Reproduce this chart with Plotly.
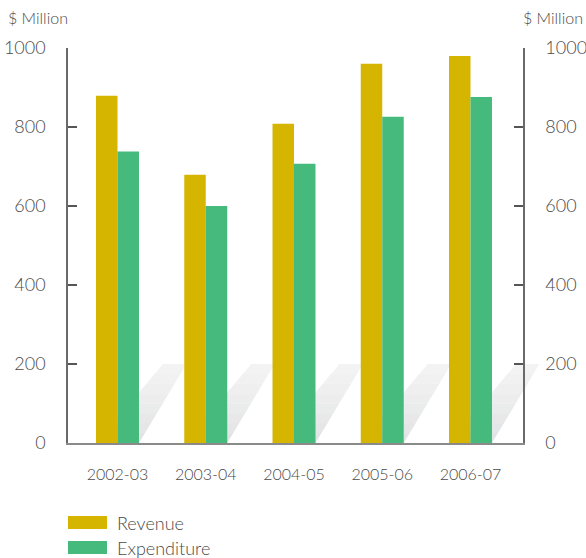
import plotly.graph_objects as go

# Fiscal years and amounts ($ Million)
years = ["2002-03", "2003-04", "2004-05", "2005-06", "2006-07"]
revenue = [879, 679, 808, 960, 980]
expenditure = [738, 600, 707, 826, 876]
y_ticks = [0, 200, 400, 600, 800, 1000]

REV_COLOR = "#D5B500"
EXP_COLOR = "#45BA7C"
TEXT_COLOR = "#4a4a4a"
FONT = "Lato"

W, H = 586, 558
M_L, M_R, M_T, M_B = 68, 63, 48, 115
X_RANGE = [-0.561, 4.595]
Y_RANGE = [0, 1000]
BAR_GAP = 0.513
SHADOW_TOP = 200
# top edge of each cast shadow, relative to the group centre (x units)
SHADOW_TOP_L, SHADOW_TOP_R = 0.516, 0.78

xs = list(range(len(years)))
bar_w = (1 - BAR_GAP) / 2

fig = go.Figure()
fig.add_trace(go.Bar(x=xs, y=revenue, name="Revenue", marker_color=REV_COLOR,
                     marker_line_width=0, showlegend=False))
fig.add_trace(go.Bar(x=xs, y=expenditure, name="Expenditure", marker_color=EXP_COLOR,
                     marker_line_width=0, showlegend=False))


def px_x(v):
    return (v - X_RANGE[0]) / (X_RANGE[1] - X_RANGE[0])


def px_y(v):
    return (v - Y_RANGE[0]) / (Y_RANGE[1] - Y_RANGE[0])


# Perspective floor shadows cast by each bar pair, fading lighter upward
shades = ["#e2e3e4", "#e5e6e7", "#e8e8e9", "#eaebeb", "#ededed", "#efefef", "#f1f1f1", "#f3f3f3"]
n = len(shades)
for i in xs:
    bl, br = i - bar_w, i + bar_w
    tl, tr = i + SHADOW_TOP_L, i + SHADOW_TOP_R
    for k, c in enumerate(shades):
        f0 = k / n
        f1 = min(1.0, (k + 1) / n + 0.004)
        l0, r0 = bl + (tl - bl) * f0, br + (tr - br) * f0
        l1, r1 = bl + (tl - bl) * f1, br + (tr - br) * f1
        y0, y1 = SHADOW_TOP * f0, SHADOW_TOP * f1
        path = (f"M{px_x(l0)},{px_y(y0)} L{px_x(r0)},{px_y(y0)} "
                f"L{px_x(r1)},{px_y(y1)} L{px_x(l1)},{px_y(y1)} Z")
        fig.add_shape(type="path", path=path, xref="paper", yref="paper",
                      fillcolor=c, line_width=0, layer="below")

axis_common = dict(
    range=Y_RANGE, tickvals=y_ticks, showgrid=False, zeroline=False,
    showline=True, linecolor="#6a6a6a", linewidth=1.5,
    ticks="inside", ticklen=9, tickwidth=1.5, tickcolor="#555",
    tickfont=dict(family=FONT, size=18, color=TEXT_COLOR, weight=300),
    ticklabelstandoff=17, automargin=False,
)

fig.add_trace(go.Scatter(x=[None], y=[None], yaxis="y2", showlegend=False,
                         hoverinfo="skip"))

fig.update_layout(
    width=W, height=H,
    margin=dict(l=M_L, r=M_R, t=M_T, b=M_B, autoexpand=False),
    paper_bgcolor="white", plot_bgcolor="white",
    barmode="group", bargap=BAR_GAP, bargroupgap=0,
    xaxis=dict(range=X_RANGE, tickvals=xs, ticktext=years, showgrid=False,
               zeroline=False, showline=True, linecolor="#8a8a8a", linewidth=2,
               ticks="", ticklabelstandoff=16, automargin=False,
               tickfont=dict(family=FONT, size=16, color=TEXT_COLOR, weight=300)),
    yaxis=dict(side="left", **axis_common),
    yaxis2=dict(side="right", overlaying="y", **axis_common),
    showlegend=False,
)

plot_w = W - M_L - M_R
plot_h = H - M_T - M_B


def paper_x(px):
    return (px - M_L) / plot_w


def paper_y(py):
    return (H - M_B - py) / plot_h


# Units captions above both axes
fig.add_annotation(text="$ Million", x=paper_x(6), y=paper_y(17), xref="paper", yref="paper",
                   xanchor="left", yanchor="middle", showarrow=False,
                   font=dict(family=FONT, size=16, color=TEXT_COLOR, weight=300))
fig.add_annotation(text="$ Million", x=paper_x(585), y=paper_y(17), xref="paper", yref="paper",
                   xanchor="right", yanchor="middle", showarrow=False,
                   font=dict(family=FONT, size=16, color=TEXT_COLOR, weight=300))

# Legend: wide colour swatches with labels
for j, (name, col) in enumerate([("Revenue", REV_COLOR), ("Expenditure", EXP_COLOR)]):
    cy = 522.5 + 25 * j
    fig.add_shape(type="rect", xref="paper", yref="paper",
                  x0=paper_x(68), x1=paper_x(107), y0=paper_y(cy - 6.5), y1=paper_y(cy + 6.5),
                  fillcolor=col, line_width=0)
    fig.add_annotation(text=name, x=paper_x(115), y=paper_y(cy), xref="paper", yref="paper",
                       xanchor="left", yanchor="middle", showarrow=False,
                       font=dict(family=FONT, size=18, color=TEXT_COLOR, weight=300))

fig.write_html("out.html")
